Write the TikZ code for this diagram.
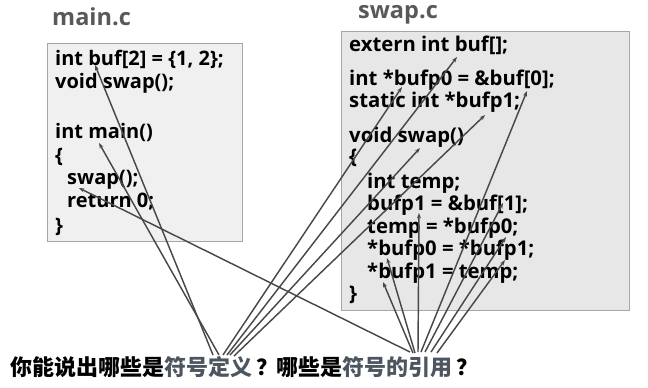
\documentclass[tikz,border=0pt]{standalone}
\usepackage{fontspec}
\setmainfont{Noto Sans CJK SC}
\newfontfamily\codefont{Open Sans}
\newcommand\myCodeAFont{\codefont\fontsize{20}{22}\selectfont\bfseries}
\newcommand\myCodeBFont{\codefont\fontsize{20.3}{22}\selectfont\bfseries}
\newcommand\myQ{\kern4pt？\kern-2pt}
\usetikzlibrary{arrows.meta}
\definecolor{boxA}{HTML}{F0F0F0}
\definecolor{boxB}{HTML}{E7E7E7}
\definecolor{boxline}{HTML}{A6A6A6}
\definecolor{titlegray}{HTML}{595959}
\definecolor{termgray}{HTML}{4D5560}
\definecolor{arrowgray}{HTML}{484848}
\tikzset{
  code/.style={anchor=west, inner sep=0pt},
  codeA/.style={code, font=\myCodeAFont},
  codeB/.style={code, font=\myCodeBFont},
  title/.style={anchor=base west, inner sep=0pt, text=titlegray, font=\codefont\fontsize{23.5}{26}\selectfont\bfseries},
  filebox/.style={draw=boxline, line width=0.8pt},
  ref/.style={draw=arrowgray, line width=1.45pt, -{Stealth[length=5.5pt,width=4pt]}},
}
\begin{document}
\begin{tikzpicture}[x=1pt,y=-1pt]
\useasboundingbox (0,0) rectangle (648,388);
% titles
\node[title] (tmain) at (52,25) {main.c};
\node[title] (tswap) at (358,18) {swap.c};
% boxes
\node[filebox, fill=boxA, inner sep=0pt, minimum width=195pt, minimum height=198pt, anchor=north west] (boxmain) at (47,43) {};
\node[filebox, fill=boxB, inner sep=0pt, minimum width=288pt, minimum height=279pt, anchor=north west] (boxswap) at (341,31) {};
% main.c code
\node[codeA] (m1) at (55,59) {int buf[2] = \{1, 2\};};
\node[codeA] (m2) at (55,83) {void swap();};
\node[codeA] (m3) at (55,132) {int main()};
\node[codeA] (m4) at (55,157) {\{};
\node[codeA] (m5) at (67,180) {swap();};
\node[codeA] (m6) at (67,202) {return 0;};
\node[codeA] (m7) at (55,227) {\}};
% swap.c code
\node[codeB] (s1) at (349,45) {extern int buf[];};
\node[codeB] (s2) at (349,80) {int *bufp0 = \&buf[0];};
\node[codeB] (s3) at (349,102) {static int *bufp1;};
\node[codeB] (s4) at (349,137) {void swap()};
\node[codeB] (s5) at (349,158) {\{};
\node[codeB] (s6) at (367,183) {int temp;};
\node[codeB] (s7) at (367,205) {bufp1 = \&buf[1];};
\node[codeB] (s8) at (367,228) {temp = *bufp0;};
\node[codeB] (s9) at (367,250) {*bufp0 = *bufp1;};
\node[codeB] (s10) at (367,273) {*bufp1 = temp;};
\node[codeB] (s11) at (349,295) {\}};
% question
\node[anchor=west, inner sep=0pt, font=\fontsize{22}{24}\selectfont\bfseries] (q) at (10,367)
  {你能说出哪些是\textcolor{termgray}{符号定义}\myQ 哪些是\textcolor{termgray}{符号的引用}\myQ};
% arrow targets
\coordinate (tBufMain) at (95,65);
\coordinate (tMain) at (99,143);
\coordinate (tSwapCall) at (79,188);
\coordinate (tBufExt) at (457,57);
\coordinate (tBufp0) at (402,87);
\coordinate (tBuf0) at (527,91);
\coordinate (tBufp1S) at (485,115);
\coordinate (tSwapDef) at (420,148);
\coordinate (tBufp1A) at (419,213);
\coordinate (tBuf1) at (503,203);
\coordinate (tBufp0B) at (506,237);
\coordinate (tBufp0C) at (387,258);
\coordinate (tBufp1C) at (505,260);
\coordinate (tBufp1D) at (383,282);
% origins: definitions
\coordinate (d1) at (213,355);
\coordinate (d2) at (219,355);
\coordinate (d3) at (223,355);
\coordinate (d4) at (227,355);
\coordinate (d5) at (230,355);
\coordinate (d6) at (234,356);
% origins: references
\coordinate (r1) at (410,352);
\coordinate (r2) at (413,353);
\coordinate (r3) at (415,353);
\coordinate (r4) at (418,352);
\coordinate (r5) at (421,352);
\coordinate (r6) at (425,352);
\coordinate (r7) at (431,352);
\coordinate (r8) at (437,353);
% definition arrows
\draw[ref] (d1) -- (tBufMain);
\draw[ref] (d2) -- (tMain);
\draw[ref] (d3) -- (tBufp0);
\draw[ref] (d4) -- (tBufExt);
\draw[ref] (d5) -- (tSwapDef);
\draw[ref] (d6) -- (tBufp1S);
% reference arrows
\draw[ref] (r1) -- (tSwapCall);
\draw[ref] (r2) -- (tBufp1D);
\draw[ref] (r3) -- (tBufp0C);
\draw[ref] (r4) -- (tBufp1A);
\draw[ref] (r5) -- (tBuf0);
\draw[ref] (r6) -- (tBuf1);
\draw[ref] (r7) -- (tBufp0B);
\draw[ref] (r8) -- (tBufp1C);
\end{tikzpicture}
\end{document}
